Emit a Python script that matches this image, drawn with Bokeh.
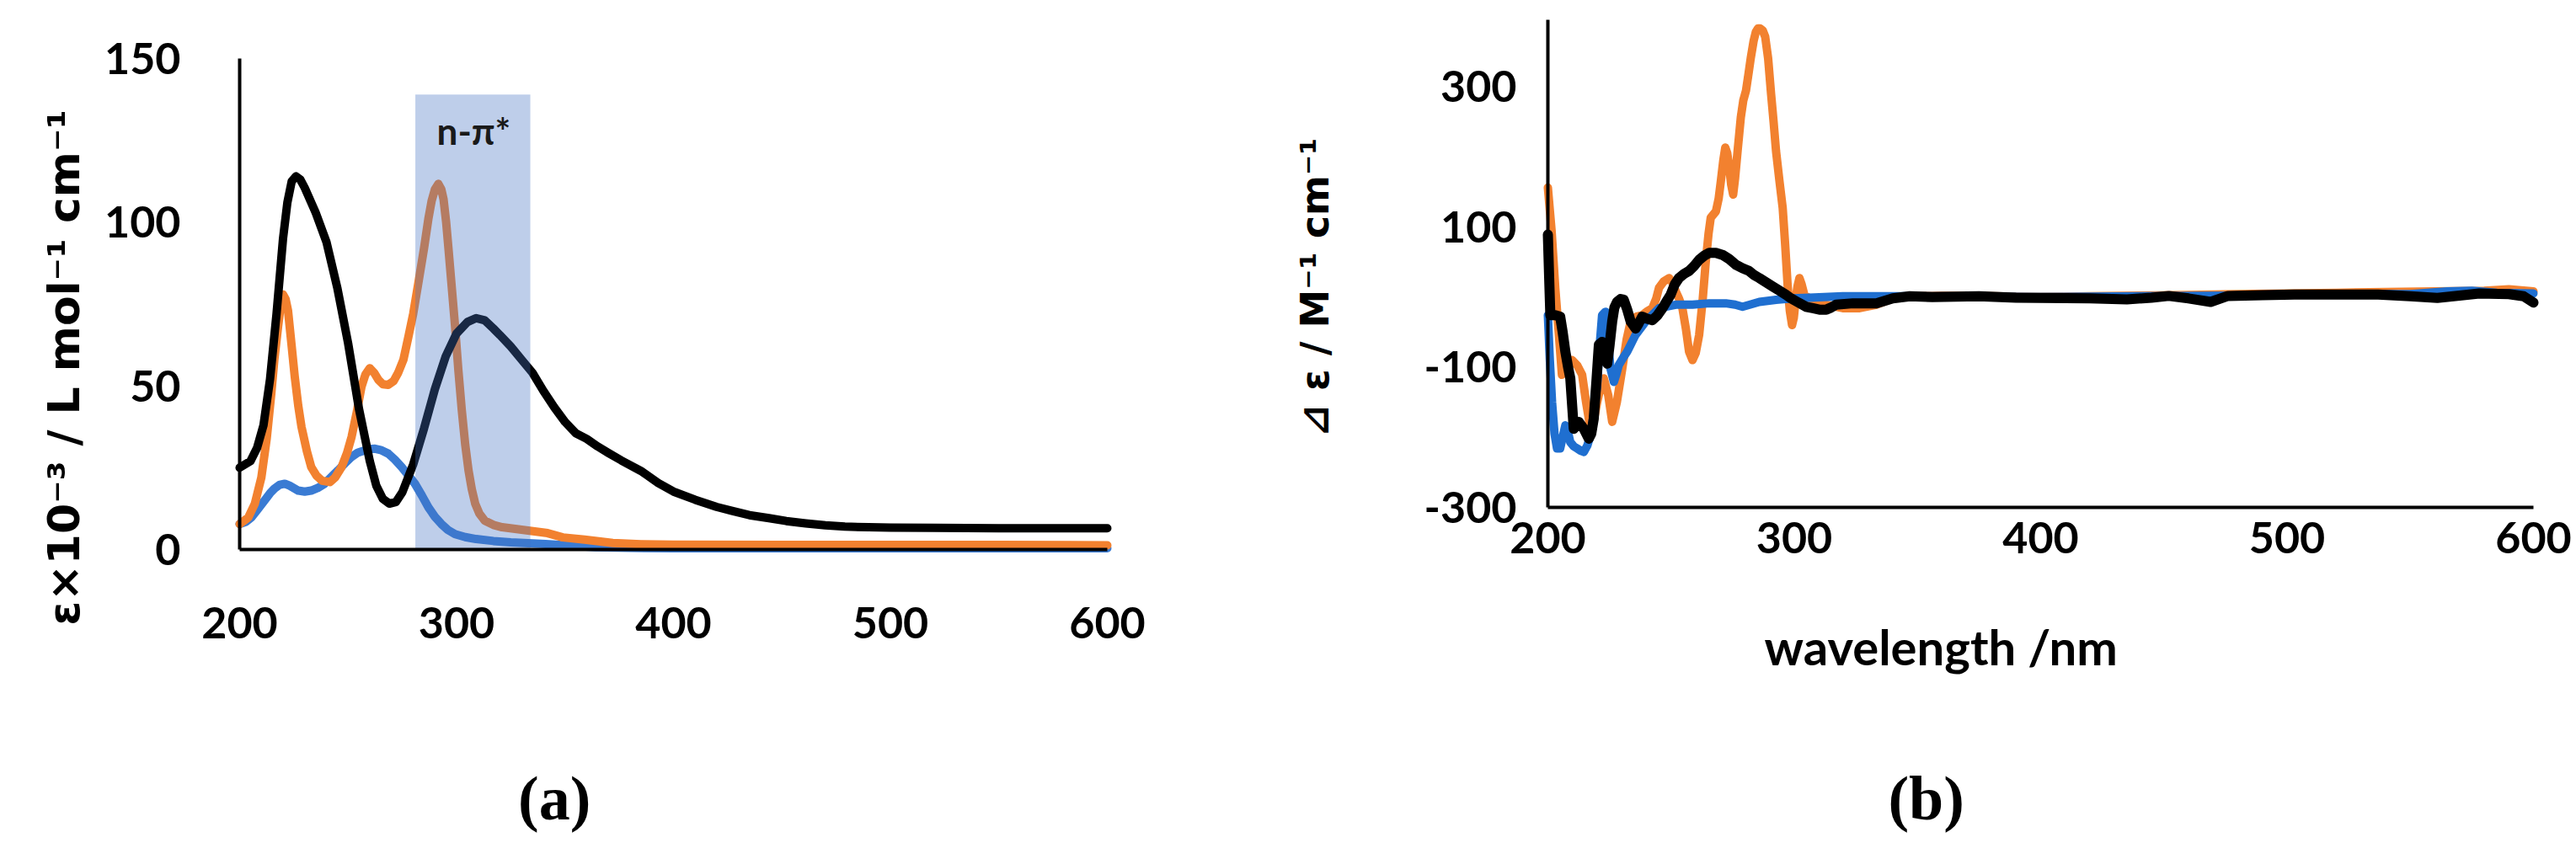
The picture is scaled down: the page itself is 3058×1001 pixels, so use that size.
import math
from bokeh.plotting import figure
from bokeh.models import Range1d, FixedTicker, Label
from bokeh.layouts import row
from bokeh.embed import file_html
from bokeh.resources import INLINE
from bokeh.core.properties import value

# ---------------- (a) UV-vis absorption ----------------
x_ticks_a = [200, 300, 400, 500, 600]
y_ticks_a = [0, 50, 100, 150]
band_nm = [281, 334]
band_top = 139
band_label = "n-π*"

wl_black_a = [200, 205, 208, 211, 214, 217, 220, 222, 224, 226, 228, 230, 235, 240, 245, 250, 255, 260,
              263, 266, 269, 272, 275, 280, 285, 290, 295, 300, 305, 309, 313, 317, 320, 325, 330, 335,
              340, 345, 350, 355, 360, 365, 370, 376, 385, 393, 400, 410, 420, 427, 435, 444, 452, 461,
              470, 479, 490, 500, 520, 550, 575, 600]
abs_black_a = [25, 27, 31, 38, 52, 72, 95, 106, 112.5, 114, 113, 110.5, 103, 94, 80, 63, 43, 27,
               19.5, 15.5, 14, 14.5, 17.5, 26, 37, 49, 59, 66, 69.5, 70.7, 70, 67.5, 65.5, 62, 58, 54,
               48.5, 43.5, 39, 35.5, 33.8, 31.5, 29.5, 27.2, 24, 20.3, 17.7, 15.2, 13, 11.8, 10.5, 9.6, 8.7, 8,
               7.4, 7, 6.8, 6.7, 6.6, 6.5, 6.5, 6.5]

wl_orange_a = [200, 204, 207, 210, 212.5, 214.6, 216, 217.7, 219, 220, 221.2, 222.3, 224, 225.4, 227, 228.5,
               231, 233, 235.5, 238, 241.6, 244, 247, 249.5, 251.6, 254, 256.2, 258, 260, 262, 264, 266,
               268.5, 271, 273, 275.5, 277.8, 280, 282.4, 285, 287, 288.5, 290, 291.6, 293, 294, 295.2,
               296.3, 297.8, 299.3, 300.8, 302.4, 304, 305.5, 307, 308.6, 310.5, 313, 317, 321, 333, 342,
               349, 359, 372, 385, 400, 450, 500, 550, 600]
abs_orange_a = [7.8, 9.8, 14, 22, 34, 47.7, 58, 68, 75, 77.9, 76.5, 73, 62, 52.8, 44, 37.5,
                30, 25.2, 22.5, 21, 20.6, 22, 25.2, 29.5, 34.4, 42, 49.8, 53.5, 55.4, 54, 51.8, 50.5,
                50.3, 51.5, 53.9, 58, 65, 72, 81.5, 92, 101, 106.5, 110, 111.7, 110, 107, 100,
                91.7, 80, 68.2, 55, 42.6, 32, 24.2, 18.5, 14, 11, 8.8, 7.5, 6.8, 5.8, 5,
                3.7, 3, 2, 1.6, 1.5, 1.4, 1.4, 1.4, 1.3]

wl_blue_a = [200, 203, 205.4, 208, 211.5, 214, 216, 218.5, 220.8, 223, 227, 230, 233, 236, 239, 242, 245.4,
             248.5, 251.6, 254.5, 257.7, 260, 262.4, 265, 268.5, 271.5, 274.7, 278, 280.8, 284, 287, 290,
             293, 296, 299.3, 304, 309, 317, 325, 341, 352, 364, 380, 400, 500, 600]
abs_blue_a = [7.8, 8.5, 9.8, 12, 15, 17.2, 18.6, 19.8, 20.1, 19.5, 18, 17.7, 18, 18.8, 20, 22, 24.2,
              26.3, 28.3, 29.6, 30.3, 30.7, 30.8, 30.4, 29.3, 27.5, 25.2, 22.5, 20.1, 16.5, 12.9, 10,
              7.8, 6, 4.7, 3.8, 3.2, 2.6, 2.2, 1.7, 1.2, 0.7, 0.5, 0.4, 0.4, 0.4]

# ---------------- (b) CD spectra ----------------
x_ticks_b = [200, 300, 400, 500, 600]
y_ticks_b = [-300, -100, 100, 300]

wl_orange_b = [200, 201.5, 203, 204.5, 205.7, 207.5, 209.8, 212, 213.9, 215.5, 217.3, 218.7, 220, 221.4,
               222.7, 224.5, 226.1, 228, 230.2, 232, 233.6, 236, 238.3, 240.5, 242.4, 244, 245.1, 247,
               249.2, 250.6, 251.9, 253.3, 254.6, 256, 257.3, 258.7, 260, 261.4, 262.8, 264.1, 265.2,
               266.1, 268.2, 269.3, 270.2, 271.2, 272, 272.8, 273.6, 274.4, 275.2, 276, 277, 278.3,
               279.3, 280.4, 281.5, 282.4, 283.5, 284.4, 285.3, 286.1, 287.2, 288.2, 289.4, 290.6,
               291.6, 292.6, 294, 295.3, 296.3, 297.3, 298.2, 299.1, 299.8, 300.5, 301.3, 302.1, 303,
               304.1, 306.2, 310, 313, 319.7, 326.5, 333.3, 340, 346.9, 360, 380, 400, 420, 440, 460,
               480, 500, 520, 540, 560, 580, 590, 600]
cd_orange_b = [156, 95, 13, -55, -111, -100, -90, -98, -111, -150, -188, -175, -150, -128,
               -116, -140, -178, -150, -102, -60, -35, -28, -26, -20, -16, -2, 13, 22,
               27, 20, 8, -3, -16, -45, -78, -90, -80, -54, -5, 51, 90,
               113, 122, 140, 165, 195, 213, 205, 185, 160, 146, 170, 208, 256,
               280, 294, 320, 342, 365, 378, 383, 383, 380, 371, 340, 289,
               250, 208, 165, 127, 75, 17, -20, -40, -30, -6, 15, 27, 18,
               3, -2, -8, -11, -16, -16, -11, -2, 1, 2, 1, 0, 1, 2, 3,
               4, 5, 6, 7, 8, 9, 11, 8]

wl_blue_b = [200, 200.8, 201.7, 202.7, 203.7, 205, 206, 207.1, 208, 209.1, 210.5, 211.9, 213.2, 214.6, 216,
             217.3, 218.7, 220, 221, 222, 223.4, 224.4, 225.4, 226.8, 227.8, 228.8, 230.5, 232.2, 235.6,
             239.7, 245.1, 251.9, 258.7, 265.5, 272.2, 276, 279, 282, 285.8, 292.6, 299.4, 306.2, 319.7,
             340, 360, 400, 440, 480, 520, 550, 565, 575, 585, 600]
cd_blue_b = [-26, -90, -150, -195, -216, -216, -200, -183, -190, -207, -213, -216, -219, -221, -212,
             -197, -165, -126, -70, -26, -21, -60, -102, -121, -110, -97, -87, -78, -54,
             -35, -16, -11, -11, -9, -9, -11, -14, -11, -7, -4, -2, -1, 1,
             1, 1, 0, 1, 2, 4, 4, 8, 9, 6, 5]

wl_black_b = [200, 200.5, 201, 203, 205, 206, 207.1, 208.2, 209.1, 210.5, 212.5, 214.6, 216.6, 217.6, 218.6,
              219.7, 220.7, 222, 223, 224.1, 225, 226.1, 227, 228.1, 229.5, 230.8, 232.2, 233.6, 235.6,
              236.8, 238.3, 240.3, 242.4, 244.5, 246.5, 248.2, 249.8, 251.5, 253.2, 255.3, 257.3, 259.3,
              261.4, 263.5, 265.5, 268.2, 270.9, 273.6, 276.3, 279, 281.7, 283.8, 285.8, 288.5, 291.2,
              294, 296.7, 298.7, 300.7, 302.8, 304.8, 307.5, 310.2, 313, 315, 317, 323.8, 333.3, 340,
              346.9, 356, 375, 390, 400, 420, 435, 445, 452, 460, 469, 476, 490, 503, 520, 537, 550,
              561, 570, 578, 590, 596, 600]
cd_black_b = [89, 30, -26, -26, -28, -50, -78, -100, -116, -188, -178, -188, -202, -195, -174,
              -120, -68, -64, -80, -95, -70, -35, -15, -7, -3, -4, -18, -35, -45,
              -38, -28, -31, -33, -26, -16, -6, 3, 18, 27, 33, 37, 44,
              53, 59, 63, 63, 60, 54, 46, 41, 37, 31, 27, 21, 15,
              9, 3, -2, -6, -10, -14, -16, -18, -18, -15, -11, -9, -9, -2,
              1, 0, 1, -1, -1.3, -2, -3.3, -1, 1.5, -2, -7, 1.5, 2.5, 3.6, 3.6, 3.6, 1,
              -1.3, 2, 5, 4, 1, -8]

ORANGE = "#F2812F"
BLUE_A = "#3A7BD3"
BLUE_B = "#1F6FD0"
BAND = "#4472C4"
TICK_FONT = "Lato"


def style(p, xstand, ystand, xt, yt, xloc, yloc, xb, yb):
    p.xgrid.visible = False
    p.ygrid.visible = False
    p.outline_line_color = None
    p.xaxis.ticker = FixedTicker(ticks=xt)
    p.yaxis.ticker = FixedTicker(ticks=yt)
    p.xaxis.fixed_location = xloc
    p.yaxis.fixed_location = yloc
    p.xaxis.bounds = xb
    p.yaxis.bounds = yb
    for ax in (p.xaxis[0], p.yaxis[0]):
        ax.axis_line_color = "black"
        ax.axis_line_width = 4
        ax.major_tick_line_color = None
        ax.minor_tick_line_color = None
        ax.major_tick_out = 0
        ax.major_tick_in = 0
        ax.minor_tick_out = 0
        ax.minor_tick_in = 0
        ax.major_label_text_font = TICK_FONT
        ax.major_label_text_font_style = "bold"
        ax.major_label_text_font_size = "52px"
        ax.major_label_text_color = "black"
    p.xaxis.major_label_standoff = xstand
    p.yaxis.major_label_standoff = ystand


common = dict(width=1529, height=1001, output_backend="svg", toolbar_location=None,
              min_border_left=0, min_border_right=0, min_border_top=0, min_border_bottom=0)

# ---- figure (a): frame spans the whole canvas; axes sit at fixed data locations
pa = figure(x_range=Range1d(89.71, 683.50), y_range=Range1d(-89.79, 167.75), **common)
style(pa, 68, 70, x_ticks_a, y_ticks_a, 0, 200, (200, 600), (0, 150))

pa.line(wl_blue_a, abs_blue_a, line_color=BLUE_A, line_width=10, line_join="round", line_cap="round")
pa.line(wl_orange_a, abs_orange_a, line_color=ORANGE, line_width=10, line_join="round", line_cap="round")
pa.line(wl_black_a, abs_black_a, line_color="black", line_width=10, line_join="round", line_cap="round")
pa.quad(left=[band_nm[0]], right=[band_nm[1]], bottom=[0], top=[band_top],
        fill_color=BAND, fill_alpha=0.35, line_color=None)
pa.text(x=[290.9], y=[128.1], text=[band_label], text_font=value("Lato"),
        text_font_style="bold", text_font_size="44px", text_color="#1a1a1a",
        text_align="left", text_baseline="alphabetic")

pa.add_layout(Label(x=119.2, y=-23.2, text="ε×10⁻³ / L mol⁻¹ cm⁻¹", angle=math.pi / 2,
                    text_align="left", text_baseline="alphabetic",
                    text_font="DejaVu Sans", text_font_style="bold", text_font_size="52px",
                    text_color="black"))
pa.add_layout(Label(x=328.4, y=-76.1, text="(a)",
                    text_align="left", text_baseline="alphabetic",
                    text_font="Liberation Serif", text_font_style="bold", text_font_size="74px",
                    text_color="black"))

# ---- figure (b)
pb = figure(x_range=Range1d(94.70, 617.44), y_range=Range1d(-779.08, 422.81), **common)
style(pb, 18, 37, x_ticks_b, y_ticks_b, -300, 200, (200, 600), (-300, 395))
pb.yaxis.major_label_overrides = {-300: "-300", -100: "-100", 100: "100", 300: "300"}

pb.line(wl_orange_b, cd_orange_b, line_color=ORANGE, line_width=10, line_join="round", line_cap="round")
pb.line(wl_blue_b, cd_blue_b, line_color=BLUE_B, line_width=10, line_join="round", line_cap="round")
pb.line(wl_black_b, cd_black_b, line_color="black", line_width=12, line_join="round", line_cap="round")

pb.add_layout(Label(x=105.3, y=-199.1, text="⊿ ε / M⁻¹ cm⁻¹", angle=math.pi / 2,
                    text_align="left", text_baseline="alphabetic",
                    text_font="DejaVu Sans", text_font_style="bold", text_font_size="46px",
                    text_color="black"))
pb.add_layout(Label(x=287.9, y=-498.1, text="wavelength /nm",
                    text_align="left", text_baseline="alphabetic",
                    text_font="Lato", text_font_style="bold", text_font_size="58px",
                    text_color="black"))
pb.add_layout(Label(x=338.1, y=-715.4, text="(b)",
                    text_align="left", text_baseline="alphabetic",
                    text_font="Liberation Serif", text_font_style="bold", text_font_size="74px",
                    text_color="black"))

layout = row(pa, pb)
open("out.html", "w").write(file_html(layout, INLINE))
